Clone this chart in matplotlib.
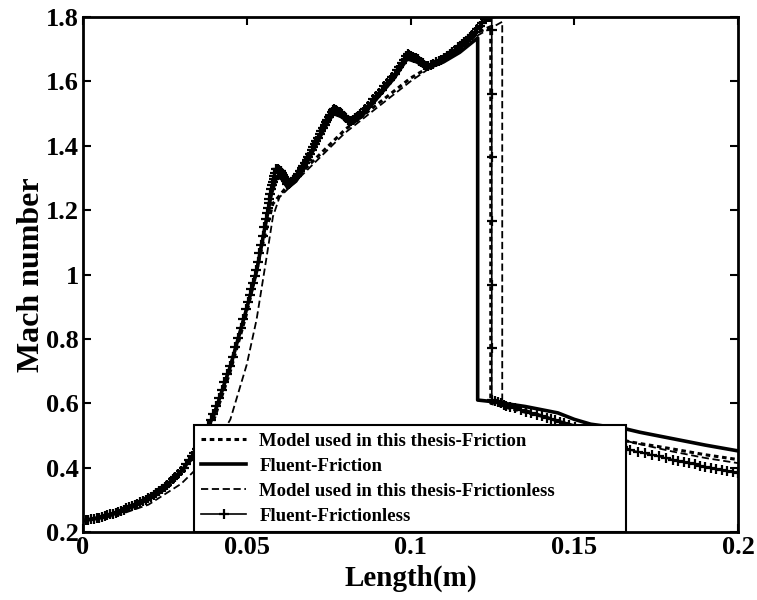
import numpy as np
import matplotlib.pyplot as plt
from matplotlib.lines import Line2D

plt.rcParams['font.family'] = ['Liberation Serif', 'DejaVu Serif']
plt.rcParams['font.weight'] = 'bold'

# Model used in this thesis - Friction (smooth, dotted)
x_model_fr = [0, 0.005, 0.01, 0.015, 0.02, 0.025, 0.03, 0.035, 0.04, 0.045, 0.05,
              0.055, 0.058, 0.062, 0.07, 0.08, 0.09, 0.1, 0.105, 0.11, 0.115, 0.12,
              0.1245, 0.1245, 0.13, 0.14, 0.15, 0.16, 0.167, 0.18, 0.19, 0.2]
y_model_fr = [0.235, 0.243, 0.257, 0.277, 0.302, 0.336, 0.385, 0.45, 0.55, 0.70, 0.88,
              1.10, 1.22, 1.27, 1.35, 1.45, 1.53, 1.61, 1.64, 1.67, 1.71, 1.75,
              1.77, 0.60, 0.585, 0.56, 0.53, 0.50, 0.48, 0.458, 0.44, 0.425]

# Fluent - Friction (solid)
x_fluent_fr = [0, 0.005, 0.01, 0.015, 0.02, 0.025, 0.03, 0.035, 0.04, 0.045, 0.05,
               0.053, 0.056, 0.0575, 0.059, 0.0605, 0.0625, 0.065, 0.068, 0.071, 0.074,
               0.0765, 0.079, 0.0815, 0.085, 0.09, 0.095, 0.099, 0.102, 0.105, 0.11,
               0.115, 0.1205, 0.1205, 0.125, 0.135, 0.145, 0.15, 0.155, 0.16, 0.165,
               0.17, 0.18, 0.19, 0.2]
y_fluent_fr = [0.235, 0.245, 0.258, 0.278, 0.303, 0.338, 0.388, 0.458, 0.565, 0.715, 0.895,
               1.01, 1.17, 1.25, 1.30, 1.30, 1.27, 1.29, 1.34, 1.40, 1.46,
               1.50, 1.49, 1.47, 1.49, 1.55, 1.61, 1.67, 1.66, 1.64, 1.66,
               1.69, 1.735, 0.61, 0.605, 0.59, 0.57, 0.55, 0.535, 0.528, 0.522,
               0.51, 0.49, 0.47, 0.452]

# Model used in this thesis - Frictionless (smooth, dashed)
x_model_fl = [0, 0.01, 0.02, 0.03, 0.035, 0.04, 0.045, 0.05, 0.053, 0.056, 0.058, 0.06,
              0.063, 0.07, 0.08, 0.09, 0.1, 0.11, 0.12, 0.128, 0.128, 0.135, 0.15,
              0.167, 0.18, 0.19, 0.2]
y_model_fl = [0.235, 0.25, 0.285, 0.35, 0.40, 0.46, 0.55, 0.72, 0.86, 1.05, 1.18, 1.24,
              1.27, 1.34, 1.44, 1.52, 1.60, 1.67, 1.74, 1.785, 0.60, 0.58, 0.53,
              0.48, 0.45, 0.43, 0.414]

# Fluent - Frictionless (solid with + markers)
x_fluent_fl = [0, 0.005, 0.01, 0.015, 0.02, 0.025, 0.03, 0.035, 0.04, 0.045, 0.05,
               0.053, 0.056, 0.0575, 0.059, 0.0605, 0.0625, 0.065, 0.068, 0.071, 0.074,
               0.0765, 0.079, 0.0815, 0.085, 0.09, 0.095, 0.099, 0.102, 0.105, 0.11,
               0.115, 0.1187, 0.1233, 0.1248, 0.1248, 0.13, 0.14, 0.148, 0.16, 0.167,
               0.18, 0.19, 0.2]
y_fluent_fl = [0.235, 0.245, 0.26, 0.28, 0.305, 0.34, 0.39, 0.46, 0.57, 0.72, 0.90,
               1.02, 1.18, 1.27, 1.33, 1.32, 1.28, 1.30, 1.35, 1.41, 1.47,
               1.515, 1.50, 1.474, 1.50, 1.56, 1.62, 1.685, 1.67, 1.645, 1.67,
               1.71, 1.74, 1.80, 1.80, 0.61, 0.59, 0.56, 0.535, 0.48, 0.455,
               0.425, 0.403, 0.383]

labels = ['Model used in this thesis-Friction',
          'Fluent-Friction',
          'Model used in this thesis-Frictionless',
          'Fluent-Frictionless']

fig = plt.figure(figsize=(7.57, 6.0), dpi=100)
ax = fig.add_axes([0.1096, 0.1133, 0.8654, 0.8584])

ax.plot(x_model_fr, y_model_fr, color='black', lw=2.2, ls=(0, (1.5, 1.2)))
ax.plot(x_fluent_fr, y_fluent_fr, color='black', lw=2.6, ls='-')
ax.plot(x_model_fl, y_model_fl, color='black', lw=1.3, ls=(0, (4, 2)))

# dense markers for the Fluent frictionless curve
xf = np.array(x_fluent_fl)
yf = np.array(y_fluent_fl)
ax.plot(xf, yf, color='black', lw=1.2, ls='-')
t = np.linspace(0, 1, len(xf))
tt = np.linspace(0, 1, 260)
ax.plot(np.interp(tt, t, xf), np.interp(tt, t, yf), ls='none', marker='+',
        color='black', ms=7, mew=1.6)

ax.set_xlim(0, 0.2)
ax.set_ylim(0.2, 1.8)
ax.set_xticks([0, 0.05, 0.1, 0.15, 0.2])
ax.set_xticklabels(['0', '0.05', '0.1', '0.15', '0.2'])
ax.set_yticks([0.2, 0.4, 0.6, 0.8, 1.0, 1.2, 1.4, 1.6, 1.8])
ax.set_yticklabels(['0.2', '0.4', '0.6', '0.8', '1', '1.2', '1.4', '1.6', '1.8'])
ax.tick_params(direction='in', top=True, right=True, length=6, width=1.5,
               labelsize=19, pad=3)
for lab in ax.get_xticklabels() + ax.get_yticklabels():
    lab.set_fontweight('bold')
for sp in ax.spines.values():
    sp.set_linewidth(2)

ax.set_xlabel('Length(m)', fontsize=21, fontweight='bold', labelpad=4)
ax.set_ylabel('Mach number', fontsize=23, fontweight='bold', labelpad=0)

handles = [
    Line2D([], [], color='black', lw=2.2, ls=(0, (1.5, 1.2))),
    Line2D([], [], color='black', lw=2.6, ls='-'),
    Line2D([], [], color='black', lw=1.3, ls=(0, (4, 2))),
    Line2D([], [], color='black', lw=1.2, ls='-', marker='+', ms=7, mew=1.6),
]
leg = ax.legend(handles, labels, loc='lower left', bbox_to_anchor=(0.169, 0.0, 0.66, 0.2),
                mode='expand', fancybox=False, framealpha=1, edgecolor='black',
                borderaxespad=0, handlelength=2.4, labelspacing=0.42,
                borderpad=0.4, handletextpad=0.7,
                prop={'family': 'Liberation Serif', 'weight': 'bold', 'size': 13.5})
leg.get_frame().set_linewidth(1.5)

fig.savefig('out.png', dpi=100)
